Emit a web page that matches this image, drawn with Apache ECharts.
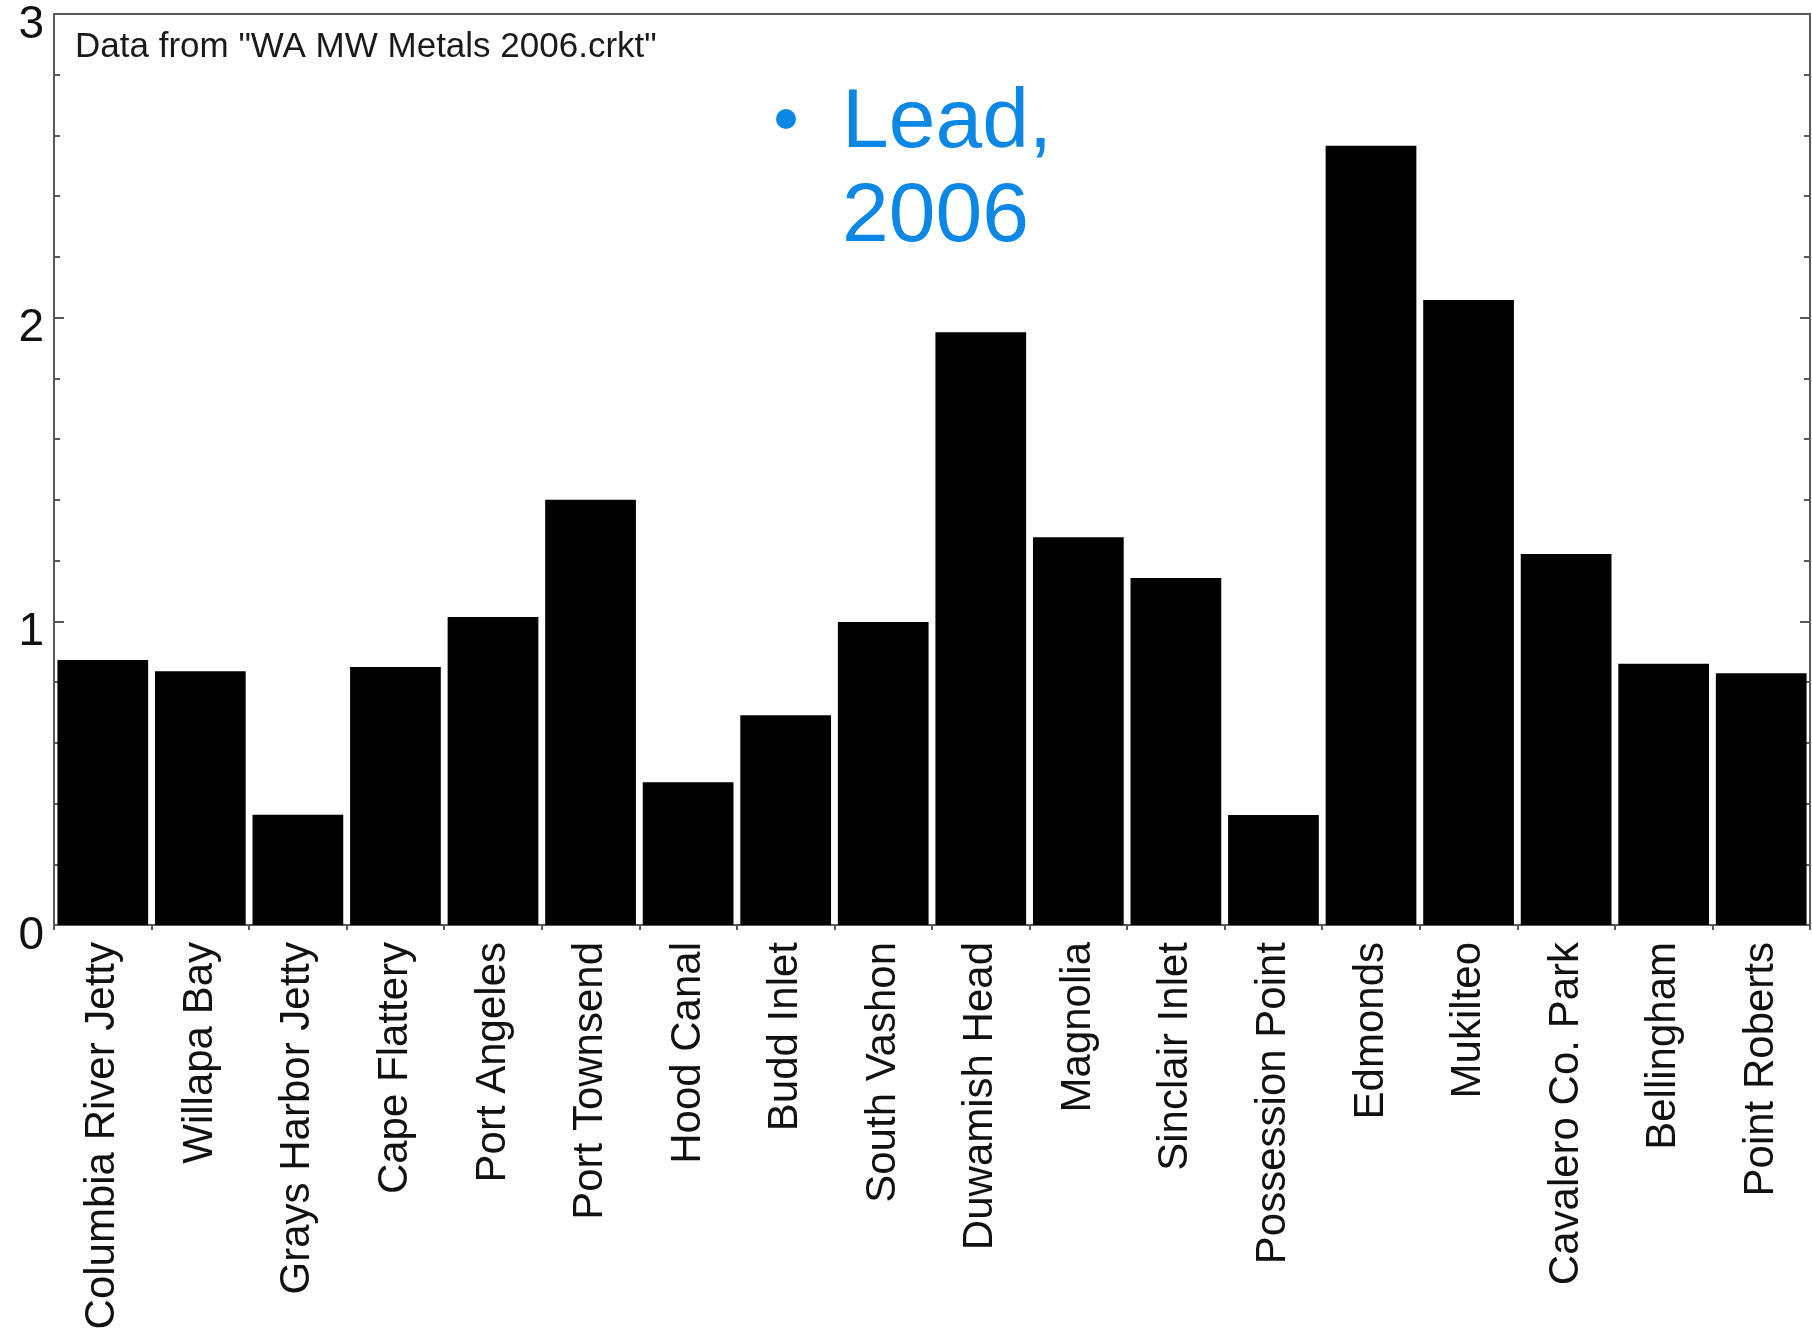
<!DOCTYPE html>
<html>
<head>
<meta charset="utf-8">
<script src="https://cdn.jsdelivr.net/npm/echarts@6/dist/echarts.min.js"></script>
<style>
html,body{margin:0;padding:0;background:#fff;}
#chart{width:1812px;height:1341px;}
</style>
</head>
<body>
<div id="chart"></div>
<script>
const categories = ["Columbia River Jetty","Willapa Bay","Grays Harbor Jetty","Cape Flattery","Port Angeles","Port Townsend","Hood Canal","Budd Inlet","South Vashon","Duwamish Head","Magnolia","Sinclair Inlet","Possession Point","Edmonds","Mukilteo","Cavalero Co. Park","Bellingham","Point Roberts"];
const leadValues = [0.873,0.836,0.363,0.850,1.014,1.400,0.470,0.691,0.998,1.952,1.277,1.143,0.362,2.566,2.058,1.222,0.860,0.829];
const yTicks = [0,1,2,3];
const noteText = 'Data from "WA MW Metals 2006.crkt"';
const headline = ['Lead,','2006'];

const FONT = '"Liberation Sans", Arial, Helvetica, sans-serif';
const chart = echarts.init(document.getElementById('chart'), null, {renderer:'canvas'});
const axisColor = '#5a5a5a';
const yAxisCommon = {
  type:'value', min:yTicks[0], max:yTicks[yTicks.length-1], interval:1,
  splitLine:{show:false},
  axisLine:{show:true, lineStyle:{color:axisColor, width:2}},
  axisTick:{show:true, inside:true, length:10, lineStyle:{color:axisColor, width:2}},
  minorTick:{show:true, splitNumber:5, length:6, lineStyle:{color:axisColor, width:2}},
  minorSplitLine:{show:false}
};
chart.setOption({
  backgroundColor:'#ffffff',
  animation:false,
  grid:{left:54, top:14, right:2, bottom:416, containLabel:false, outerBoundsMode:'none',
        show:true, borderColor:axisColor, borderWidth:2, backgroundColor:'transparent'},
  xAxis:{
    type:'category', data:categories,
    axisLine:{show:true, lineStyle:{color:axisColor, width:2}},
    axisTick:{show:true, alignWithLabel:false, length:5, lineStyle:{color:axisColor, width:2}},
    axisLabel:{rotate:90, interval:0, margin:17, fontSize:42, color:'#111', fontFamily:FONT}
  },
  yAxis:[
    Object.assign({}, yAxisCommon, {position:'left',
      axisLabel:{show:true, fontSize:46, color:'#111', fontFamily:FONT, margin:10,
                 verticalAlign:'top', lineHeight:22}}),
    Object.assign({}, yAxisCommon, {position:'right', axisLabel:{show:false}})
  ],
  series:[{
    type:'bar', data:leadValues, yAxisIndex:0,
    barCategoryGap:'7%',
    itemStyle:{color:'#000000'},
    silent:true
  }],
  graphic:[
    {type:'text', left:75, top:30, style:{text:noteText, font:'35px '+FONT, fill:'#1a1a1a'}},
    {type:'circle', shape:{cx:786, cy:119, r:10}, style:{fill:'#0b87e6'}},
    {type:'text', x:842, y:77, style:{text:headline.join('\n'), font:'84px '+FONT, lineHeight:94, fill:'#0b87e6', verticalAlign:'top', align:'left'}}
  ]
});
</script>
</body>
</html>
